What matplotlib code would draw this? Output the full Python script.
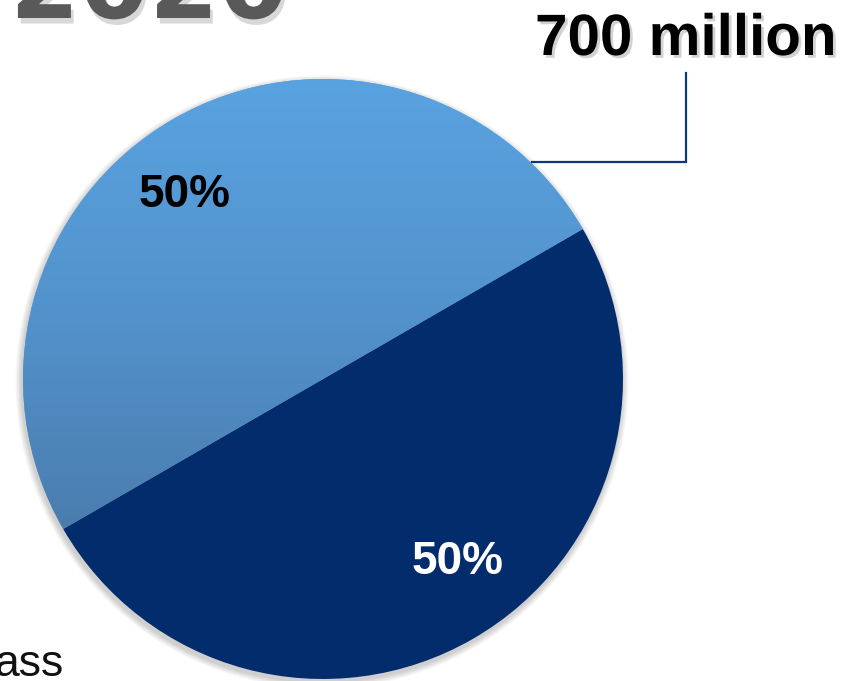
import numpy as np
import matplotlib.pyplot as plt
from matplotlib.patches import Circle
from matplotlib.colors import LinearSegmentedColormap
import matplotlib.patheffects as pe

# Two equal shares of the 700 million total
shares = [50, 50]
share_colors = ['#58a1de', '#022c6c']
label_colors = ['black', 'white']
year = '2020'
total_label = '700 million'
footer = 'ass'

W, H = 854, 681
fig = plt.figure(figsize=(W / 100, H / 100), dpi=100)
ax = fig.add_axes([0, 0, 1, 1])

cx, cy, r = 323, 302, 300

# soft drop shadow under the pie
for i in range(8):
    ax.add_patch(Circle((cx - 1, cy - 3), r + 1 + i * 0.8, color='black',
                        alpha=0.025, lw=0, zorder=0))

wedges, _ = ax.pie(shares, colors=share_colors, startangle=30, counterclock=True,
                   center=(cx, cy), radius=r,
                   wedgeprops=dict(linewidth=0, zorder=1))

# vertical gradient on the light slice
cmap = LinearSegmentedColormap.from_list('lb', ['#4a7dae', '#5393cd', '#59a3e0'])
grad = np.linspace(0, 1, 256).reshape(-1, 1)
im = ax.imshow(grad, cmap=cmap, origin='lower', aspect='auto',
               extent=(cx - r, cx + r, cy - 150, cy + r), zorder=1.5)
im.set_clip_path(wedges[0])

# percentage labels
label_pos = [(185, 486), (458, 119)]
for v, (x, y), c in zip(shares, label_pos, label_colors):
    ax.text(x, y, f'{v}%', ha='center', va='center', fontsize=33,
            fontweight='bold', color=c, family='Liberation Sans', zorder=3)

# leader line to total label
ax.plot([532, 686, 686], [H - 162, H - 162, H - 73], color='#0b3a78', lw=1.6,
        solid_joinstyle='miter', zorder=3)
ax.text(686, H - 55, total_label, ha='center', va='baseline', fontsize=42,
        fontweight='bold', family='Liberation Sans', color='black', zorder=3,
        path_effects=[pe.SimplePatchShadow(offset=(2, -2), alpha=0.35, shadow_rgbFace='gray'),
                      pe.Normal()])

# year heading, mostly off the top edge
ax.text(10, H - 18, year, ha='left', va='baseline', fontsize=72,
        fontweight='heavy', family='DejaVu Sans', color='#595959', zorder=3,
        path_effects=[pe.SimplePatchShadow(offset=(2, -4), alpha=0.3, shadow_rgbFace='gray'),
                      pe.Normal()])

ax.text(-6, H - 676, footer, ha='left', va='baseline', fontsize=32,
        family='Liberation Sans', color='#111111', zorder=3)

ax.set_xlim(0, W)
ax.set_ylim(0, H)
ax.set_aspect('auto')
ax.axis('off')

fig.savefig('out.png', dpi=100)
